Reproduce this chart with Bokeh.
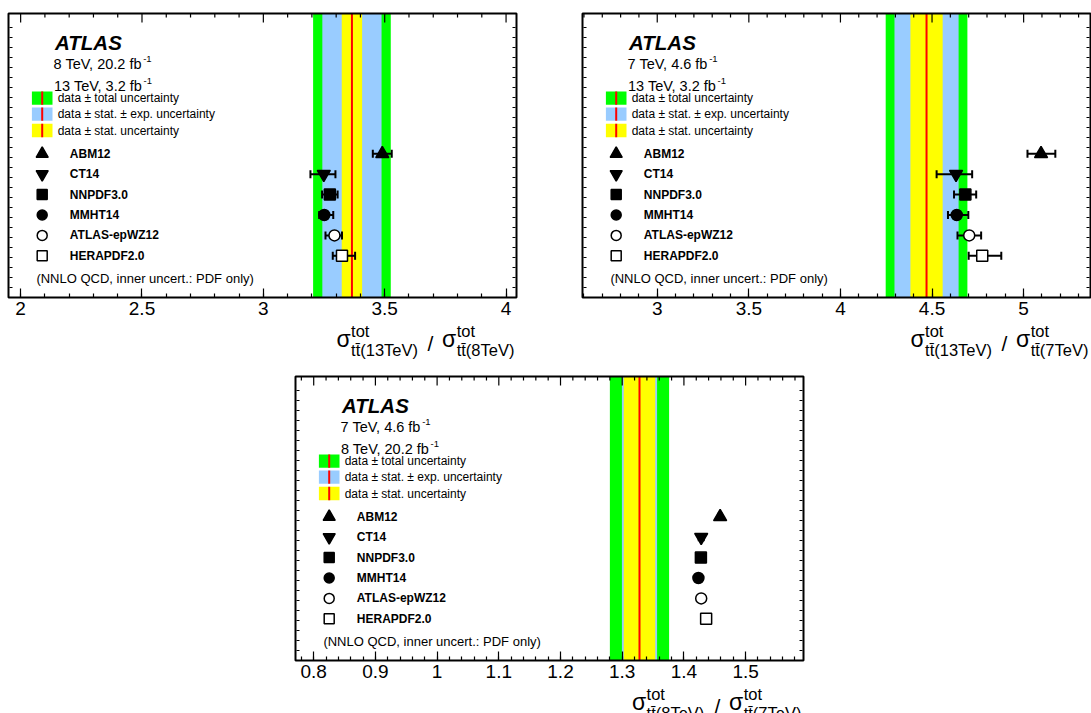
import math
import numpy as np
from bokeh.plotting import figure
from bokeh.models import (ColumnDataSource, Range1d, SingleIntervalTicker,
                          CustomJSTickFormatter, Spacer)
from bokeh.layouts import row, column
from bokeh.embed import file_html
from bokeh.resources import INLINE
from bokeh.core.properties import value

# ---------------- data ----------------
models = ["ABM12", "CT14", "NNPDF3.0", "MMHT14", "ATLAS-epWZ12", "HERAPDF2.0"]
model_markers = ["triangle", "inverted_triangle", "square", "circle", "circle", "square"]
model_fills = ["black", "black", "black", "black", "white", "white"]

# ratio 13 TeV / 8 TeV : central, stat, stat+exp, total
r138_data = [3.365, 0.042, 0.122, 0.160]
r138_pred = [3.490, 3.249, 3.274, 3.251, 3.293, 3.324]
r138_lo = [3.451, 3.194, 3.242, 3.230, 3.256, 3.286]
r138_hi = [3.529, 3.297, 3.306, 3.288, 3.324, 3.378]

# ratio 13 TeV / 7 TeV
r137_data = [4.470, 0.088, 0.175, 0.223]
r137_pred = [5.095, 4.631, 4.682, 4.635, 4.703, 4.774]
r137_lo = [5.021, 4.525, 4.620, 4.587, 4.639, 4.700]
r137_hi = [5.173, 4.719, 4.741, 4.698, 4.768, 4.878]

# ratio 8 TeV / 7 TeV
r87_data = [1.328, 0.0255, 0.0285, 0.048]
r87_pred = [1.4587, 1.428, 1.4275, 1.4235, 1.428, 1.436]
r87_lo = [1.4557, 1.424, 1.4255, 1.4215, 1.426, 1.434]
r87_hi = [1.4617, 1.432, 1.4295, 1.4255, 1.430, 1.438]

legend_entries = ["data \u00b1 total uncertainty",
                  "data \u00b1 stat. \u00b1 exp. uncertainty",
                  "data \u00b1 stat. uncertainty"]
band_colors = ["#00ff00", "#99ccff", "#ffff00"]
note_text = "(NNLO QCD, inner uncert.: PDF only)"

# ---------------- layout constants ----------------
FONT = "Liberation Sans"
PXU = 20.4          # pixels per row unit
FH = 284            # box height in px
BT = 13             # box top (px, figure-local)
YBOT = -1.044
YTOP = YBOT + FH / PXU

CW = {"0": .556, "1": .556, "2": .556, "3": .556, "4": .556, "5": .556, "6": .556,
      "7": .556, "8": .556, "9": .556, " ": .278, "T": .611, "e": .556, "V": .667,
      ",": .278, ".": .278, "f": .278, "b": .556}


def twidth(s, size):
    return sum(CW.get(ch, .556) for ch in s) * size


panels = [
    dict(num="13TeV", den="8TeV", lumi=["8 TeV, 20.2 fb", "13 TeV, 3.2 fb"],
         xr=(1.95, 4.043), tick=0.5, data=r138_data, pred=r138_pred, lo=r138_lo, hi=r138_hi,
         W=556, H=363, BL=8, BR=516, sig1=-180.0),
    dict(num="13TeV", den="7TeV", lumi=["7 TeV, 4.6 fb", "13 TeV, 3.2 fb"],
         xr=(2.592, 5.365), tick=0.5, data=r137_data, pred=r137_pred, lo=r137_lo, hi=r137_hi,
         W=535, H=363, BL=26, BR=534, sig1=-180.0),
    dict(num="8TeV", den="7TeV", lumi=["7 TeV, 4.6 fb", "8 TeV, 20.2 fb"],
         xr=(0.7705, 1.5938), tick=0.1, data=r87_data, pred=r87_pred, lo=r87_lo, hi=r87_hi,
         W=573, H=350, BL=25, BR=533, sig1=-171.5),
]

MSIZE = {"triangle": 13, "inverted_triangle": 13, "square": 11, "circle": 11}
FMT = "return String(parseFloat(tick.toFixed(3)));"


def make_panel(c):
    W, H, BL, BR = c["W"], c["H"], c["BL"], c["BR"]
    xv0, xv1 = c["xr"]
    ux = (xv1 - xv0) / (BR - BL)

    def X(off):
        return xv0 + off * ux

    def XR(off):
        return xv1 + off * ux

    def Y(dy):
        return YTOP - dy / PXU

    def YB(d):
        return YBOT - d / PXU

    xr = Range1d(xv0 - BL * ux, xv1 + (W - BR) * ux)
    yr = Range1d(YTOP - (H - BT) / PXU, YTOP + BT / PXU)
    p = figure(width=W, height=H, x_range=xr, y_range=yr,
               output_backend="svg", toolbar_location=None, y_axis_location=None,
               min_border_left=0, min_border_right=0, min_border_top=0, min_border_bottom=0)
    p.grid.visible = False
    p.outline_line_color = None
    p.background_fill_color = "white"
    p.border_fill_color = "white"

    t = c["tick"]
    ax = p.xaxis[0]
    ax.fixed_location = YBOT
    ax.bounds = (xv0, xv1)
    ax.ticker = SingleIntervalTicker(interval=t, num_minor_ticks=5)
    ax.formatter = CustomJSTickFormatter(code=FMT)
    ax.axis_line_color = None
    ax.major_tick_in = 9
    ax.major_tick_out = 0
    ax.minor_tick_in = 4
    ax.minor_tick_out = 0
    ax.major_tick_line_width = 1.2
    ax.minor_tick_line_width = 1.2
    ax.major_label_text_font = FONT
    ax.major_label_text_font_size = "19px"
    ax.major_label_text_color = "black"
    ax.major_label_standoff = 4

    # bands
    cen, st, se, tot = c["data"]
    for half, col in zip([tot, se, st], band_colors):
        p.quad(left=[cen - half], right=[cen + half], bottom=[YBOT], top=[YTOP],
               fill_color=col, line_color=None)
    p.segment(x0=[cen], x1=[cen], y0=[YBOT], y1=[YTOP], line_color="#ff0000", line_width=2)

    # top ticks (mirror of the bottom axis) and small side ticks
    k0, k1 = math.ceil(xv0 / t - 1e-9), math.floor(xv1 / t + 1e-9)
    tmaj = [k * t for k in range(k0, k1 + 1)]
    m0, m1 = math.ceil(xv0 / (t / 5) - 1e-9), math.floor(xv1 / (t / 5) + 1e-9)
    tmin = [k * t / 5 for k in range(m0, m1 + 1) if k % 5 != 0]
    p.scatter(x=tmaj, y=[Y(4.5)] * len(tmaj), marker="dash", angle=np.pi / 2, size=9,
              line_color="black", line_width=1.2)
    p.scatter(x=tmin, y=[Y(2.0)] * len(tmin), marker="dash", angle=np.pi / 2, size=4,
              line_color="black", line_width=1.2)
    yt = list(np.arange(YBOT + 10 / PXU, YTOP - 5 / PXU, 10 / PXU))
    p.scatter(x=[X(2.5)] * len(yt) + [XR(-2.5)] * len(yt), y=yt + yt, marker="dash", size=3,
              line_color="black", line_width=1)

    rows = list(range(len(models), 0, -1))
    # error bars
    p.segment(x0=c["lo"], x1=c["hi"], y0=rows, y1=rows, line_color="black", line_width=2)
    p.scatter(x=c["lo"] + c["hi"], y=rows + rows, marker="dash", angle=np.pi / 2, size=8,
              line_color="black", line_width=2)
    sizes = [MSIZE[m] for m in model_markers]
    src = ColumnDataSource(dict(x=c["pred"], y=rows, marker=model_markers, fill=model_fills, size=sizes))
    p.scatter(x="x", y="y", marker="marker", fill_color="fill", size="size",
              line_color="black", line_width=1.5, source=src)

    # legend markers
    lsrc = ColumnDataSource(dict(x=[X(33.7)] * len(models), y=rows, marker=model_markers,
                                 fill=model_fills, size=[s - 1 for s in sizes]))
    p.scatter(x="x", y="y", marker="marker", fill_color="fill", size="size",
              line_color="black", line_width=1.5, source=lsrc)

    def txt(xs, ys, texts, size, style="normal", baseline="alphabetic"):
        p.text(x=xs, y=ys, text=texts, text_font=value(FONT), text_font_size=size,
               text_font_style=style, text_baseline=baseline, text_align="left", text_color="black")

    # legend boxes
    by = [Y(84.7), Y(100.7), Y(117.0)]
    p.rect(x=[X(33.7)] * 3, y=by, width=20.6, height=13.3, width_units="screen",
           height_units="screen", fill_color=band_colors, line_color=None)
    p.rect(x=[X(33.7)] * 3, y=by, width=2, height=13.3, width_units="screen",
           height_units="screen", fill_color="#ff0000", line_color=None)
    txt([X(49.2)] * 3, by, legend_entries, "12px", baseline="middle")

    txt([X(46.5)], [Y(29.0)], ["ATLAS"], "20.5px", "bold italic")
    lx = [45.1, 45.5]
    ly = [50.6, 72.3]
    txt([X(v) for v in lx], [Y(v) for v in ly], c["lumi"], "14.5px")
    sx = [X(lx[i] + twidth(c["lumi"][i], 14.5) - 1.5) for i in range(2)]
    txt(sx, [Y(ly[0] - 5.2), Y(ly[1] - 5.2)], ["-1", "-1"], "9.5px")

    txt([X(61.3)] * len(models), rows, models, "12px", "bold", "middle")
    txt([X(27.9)], [Y(264.6)], [note_text], "13px", baseline="middle")

    # axis title
    s1 = c["sig1"]
    pieces = [(s1, 41.6, "\u03c3", "23px"),
              (s1 + 14.6, 33.3, "tot", "16.5px"),
              (s1 + 14.6, 52.6, "tt\u0304(" + c["num"] + ")", "16.5px"),
              (-89.0, 45.5, "/", "21px"),
              (-74.4, 41.6, "\u03c3", "23px"),
              (-59.8, 33.3, "tot", "16.5px"),
              (-59.8, 52.6, "tt\u0304(" + c["den"] + ")", "16.5px")]
    for off, d, tx, fs in pieces:
        txt([XR(off)], [YB(d)], [tx], fs)

    # box outline
    p.quad(left=[xv0], right=[xv1], bottom=[YBOT], top=[YTOP], fill_color=None,
           line_color="black", line_width=2)
    return p


p1, p2, p3 = [make_panel(c) for c in panels]
layout = column(row(p1, p2), row(Spacer(width=270, height=350), p3))

open("out.html", "w").write(file_html(layout, INLINE))
